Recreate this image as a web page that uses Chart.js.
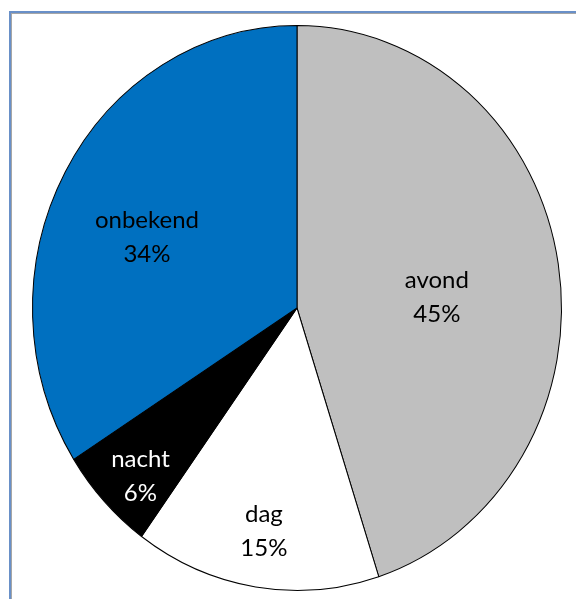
<!DOCTYPE html>
<html>
<head>
<meta charset="utf-8">
<script src="https://cdn.jsdelivr.net/npm/chart.js@4"></script>
<style>
  body { margin: 0; background: #fff; }
  #wrap { position: relative; width: 576px; height: 599px; overflow: hidden; }
  #frame {
    position: absolute; left: 9px; top: 11px; width: 600px; height: 620px;
    border: 2px solid #6990c8; box-shadow: inset 0 0 0 1px #a6a6a6;
  }
  canvas { position: absolute; left: 0; top: 0; }
</style>
</head>
<body>
<div id="wrap">
  <div id="frame"></div>
  <canvas id="pieChart" width="576" height="599"></canvas>
</div>
<script>
var categories = ['avond', 'dag', 'nacht', 'onbekend'];
var percentages = [45, 15, 6, 34];
var sliceColors = ['#bfbfbf', '#ffffff', '#000000', '#0070c0'];
var labelColors = ['#000000', '#000000', '#ffffff', '#000000'];

// where each label sits: fraction of the radius and a small angle shift (degrees)
var labelRadius = [0.53, 0.80, 0.84, 0.62];
var labelShift = [5, 0, -2, -5];

// the reference pie is a bit taller than wide
var stretchY = 283 / 265;

var ellipsePlugin = {
    id: 'ellipse',
    beforeDatasetsDraw: function (chart) {
        var arc = chart.getDatasetMeta(0).data[0];
        var ctx = chart.ctx;
        ctx.save();
        ctx.translate(0, arc.y);
        ctx.scale(1, stretchY);
        ctx.translate(0, -arc.y);
    },
    afterDatasetsDraw: function (chart) {
        chart.ctx.restore();
    }
};

var labelPlugin = {
    id: 'sliceLabels',
    afterDraw: function (chart) {
        var ctx = chart.ctx;
        var total = percentages.reduce(function (a, b) { return a + b; }, 0);
        ctx.save();
        ctx.font = '24px Lato';
        ctx.textAlign = 'center';
        ctx.textBaseline = 'middle';
        chart.getDatasetMeta(0).data.forEach(function (arc, i) {
            var mid = (arc.startAngle + arc.endAngle) / 2 + labelShift[i] * Math.PI / 180;
            var r = arc.outerRadius * labelRadius[i];
            var x = arc.x + Math.cos(mid) * r;
            var y = arc.y + Math.sin(mid) * r * stretchY;
            ctx.fillStyle = labelColors[i];
            ctx.fillText(categories[i], x, y - 17);
            ctx.fillText(Math.round(percentages[i] / total * 100) + '%', x, y + 17);
        });
        ctx.restore();
    }
};

var chart = new Chart(document.getElementById('pieChart'), {
    type: 'pie',
    data: {
        labels: categories,
        datasets: [{
            data: percentages,
            backgroundColor: sliceColors,
            borderColor: '#000000',
            borderWidth: 1
        }]
    },
    options: {
        responsive: false,
        animation: false,
        events: [],
        layout: {
            padding: { left: 32, right: 14, top: 43, bottom: 26 }
        },
        plugins: {
            legend: { display: false },
            tooltip: { enabled: false }
        }
    },
    plugins: [ellipsePlugin, labelPlugin]
});
</script>
</body>
</html>
